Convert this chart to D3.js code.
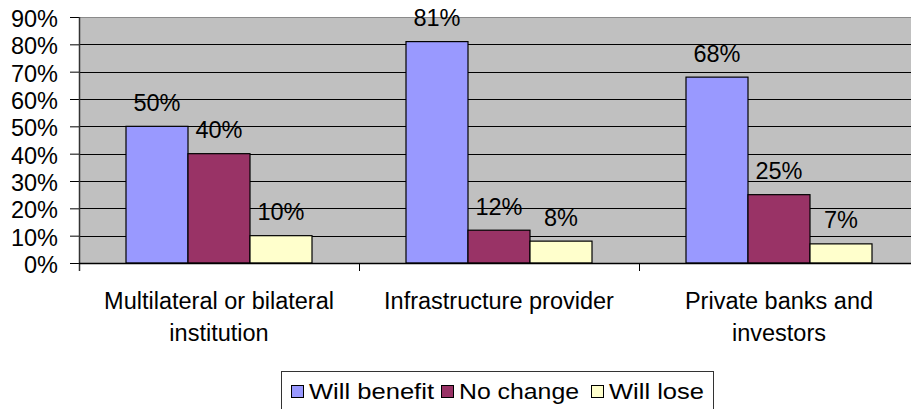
<!DOCTYPE html>
<html>
<head>
<meta charset="utf-8">
<script src="https://cdn.jsdelivr.net/npm/d3@7/dist/d3.min.js"></script>
<style>
  html, body { margin: 0; padding: 0; background: #fff; }
  svg { display: block; font-family: "Liberation Sans", Arial, sans-serif; }
</style>
</head>
<body>
<svg id="chart" width="911" height="409"></svg>
<script>
const categories = [["Multilateral or bilateral", "institution"], ["Infrastructure provider"], ["Private banks and", "investors"]];
const seriesNames = ["Will benefit", "No change", "Will lose"];
const seriesColors = ["#9999FF", "#993366", "#FFFFCC"];
const willBenefit = [0.50, 0.81, 0.68];
const noChange = [0.40, 0.12, 0.25];
const willLose = [0.10, 0.08, 0.07];
const yTicks = [0, 0.1, 0.2, 0.3, 0.4, 0.5, 0.6, 0.7, 0.8, 0.9];
const legendWidths = [125, 120, 95];

const series = [willBenefit, noChange, willLose];
const svg = d3.select("#chart");

const plotL = 79, plotR = 919, plotT = 17, plotB = 263;
const y = d3.scaleLinear().domain([0, 0.9]).range([plotB, plotT]);
const x0 = d3.scaleBand().domain(d3.range(categories.length)).range([plotL, plotR]).padding(0);
const x1 = d3.scaleBand().domain(d3.range(seriesNames.length)).range([47, 233]).padding(0);

// plot background
svg.append("rect").attr("x", plotL).attr("y", plotT).attr("width", plotR - plotL).attr("height", plotB - plotT)
  .attr("fill", "#C0C0C0");

// gridlines
svg.append("g").selectAll("line").data(yTicks.filter(t => t > 0)).join("line")
  .attr("x1", plotL).attr("x2", plotR)
  .attr("y1", d => Math.round(y(d)) + 0.5).attr("y2", d => Math.round(y(d)) + 0.5)
  .attr("stroke", d => d === 0.9 ? "#8a8a8a" : "#000").attr("stroke-width", 1);

// bars
const groups = svg.append("g").selectAll("g").data(categories).join("g")
  .attr("transform", (d, i) => `translate(${x0(i)},0)`);
groups.each(function(c, ci) {
  const g = d3.select(this);
  series.forEach((s, si) => {
    g.append("rect")
      .attr("x", x1(si)).attr("y", y(s[ci]))
      .attr("width", x1.bandwidth()).attr("height", plotB - y(s[ci]))
      .attr("fill", seriesColors[si]).attr("stroke", "#000").attr("stroke-width", 1.2);
    g.append("text")
      .attr("x", x1(si) + x1.bandwidth() / 2).attr("y", y(s[ci]) - 15.5)
      .attr("text-anchor", "middle").attr("font-size", 23.5).attr("fill", "#000")
      .text(Math.round(s[ci] * 100) + "%");
  });
});

// y axis
const yAxis = d3.axisLeft(y).tickValues(yTicks).tickSize(9).tickPadding(12)
  .tickFormat(d => Math.round(d * 100) + "%");
const ya = svg.append("g").attr("transform", `translate(${plotL},0)`).call(yAxis);
ya.select(".domain").remove();
ya.selectAll(".tick line").attr("stroke", "#000");
ya.selectAll(".tick text").attr("font-size", 23.5).attr("font-family", "Liberation Sans, Arial, sans-serif")
  .attr("fill", "#000").attr("x", -21).attr("dy", null).attr("y", 9.5);
svg.append("line").attr("x1", plotL + 0.5).attr("x2", plotL + 0.5).attr("y1", plotT).attr("y2", 271)
  .attr("stroke", "#333").attr("stroke-width", 1.5);

// x axis
svg.append("line").attr("x1", plotL).attr("x2", plotR).attr("y1", plotB + 0.5).attr("y2", plotB + 0.5)
  .attr("stroke", "#000").attr("stroke-width", 1.3);
svg.append("g").selectAll("line").data(d3.range(1, categories.length + 1)).join("line")
  .attr("x1", d => plotL + d * x0.step() + 0.5).attr("x2", d => plotL + d * x0.step() + 0.5)
  .attr("y1", plotB).attr("y2", 271).attr("stroke", "#000");

const catText = svg.append("g").selectAll("text").data(categories).join("text")
  .attr("x", (d, i) => x0(i) + x0.bandwidth() / 2).attr("y", 309)
  .attr("text-anchor", "middle").attr("font-size", 23.5).attr("fill", "#000");
catText.each(function(lines) {
  const t = d3.select(this);
  lines.forEach((ln, li) => {
    t.append("tspan").attr("x", t.attr("x")).attr("dy", li === 0 ? 0 : 32).text(ln);
  });
});

// legend
const lg = svg.append("g");
lg.append("rect").attr("x", 281.5).attr("y", 371.5).attr("width", 432).attr("height", 50)
  .attr("fill", "#fff").attr("stroke", "#333").attr("stroke-width", 1);
const legendX = [291, 441, 591];
seriesNames.forEach((n, i) => {
  lg.append("rect").attr("x", legendX[i] + 0.5).attr("y", 385.5).attr("width", 12).attr("height", 12)
    .attr("fill", seriesColors[i]).attr("stroke", "#000").attr("stroke-width", 1);
  lg.append("text").attr("x", legendX[i] + 18).attr("y", 398.5)
    .attr("font-size", 22).attr("fill", "#000")
    .attr("textLength", legendWidths[i]).attr("lengthAdjust", "spacingAndGlyphs")
    .text(n);
});
</script>
</body>
</html>
